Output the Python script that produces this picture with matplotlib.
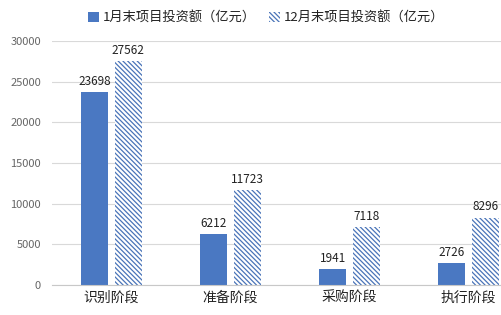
import matplotlib
matplotlib.use("Agg")
import matplotlib.pyplot as plt
from matplotlib.patches import Patch
import numpy as np

plt.rcParams['font.family'] = ['Noto Sans CJK SC', 'DejaVu Sans']
plt.rcParams['hatch.color'] = '#4a74b8'
plt.rcParams['hatch.linewidth'] = 0.9

categories = ['识别阶段', '准备阶段', '采购阶段', '执行阶段']
jan_values = [23698, 6212, 1941, 2726]
dec_values = [27562, 11723, 7118, 8296]
series_names = ['1月末项目投资额（亿元）', '12月末项目投资额（亿元）']
yticks = [0, 5000, 10000, 15000, 20000, 25000, 30000]

blue = '#4a78c2'
hatch = '\\' * 7

fig = plt.figure(figsize=(5.02, 3.15), dpi=100)
ax = fig.add_axes([52/502, 30/315, 476/502, 244/315])

x = np.arange(len(categories))
w = 0.225
off = 0.14
b1 = ax.bar(x - off, jan_values, w, color=blue, linewidth=0)
b2 = ax.bar(x + off, dec_values, w, color='white', edgecolor='#4a74b8', hatch=hatch, linewidth=0)

for rect, v in zip(list(b1) + list(b2), jan_values + dec_values):
    ax.text(rect.get_x() + rect.get_width()/2, v + 500, str(v), ha='center', va='bottom',
            fontsize=8.5, color='#222222')

ax.set_xlim(-0.5, 3.5)
ax.set_ylim(0, 30000)
ax.set_yticks(yticks)
ax.set_yticklabels([str(t) for t in yticks])
ax.set_xticks(x)
ax.set_xticklabels(categories)
ax.tick_params(axis='y', length=0, pad=8, labelsize=8, labelcolor='#666666')
ax.tick_params(axis='x', length=0, pad=4, labelsize=10, labelcolor='#222222')
ax.grid(axis='y', color='#d9d9d9', linewidth=0.8)
ax.set_axisbelow(True)
for s in ['top', 'right', 'left']:
    ax.spines[s].set_visible(False)
ax.spines['bottom'].set_color('#c8c8c8')

handles = [Patch(facecolor=blue, linewidth=0),
           Patch(facecolor='white', edgecolor='#4a74b8', hatch=hatch, linewidth=0)]
fig.legend(handles, series_names, loc='upper center', bbox_to_anchor=(0.53, 1.0), ncol=2,
           frameon=False, fontsize=9.5, handlelength=0.8, handleheight=0.8,
           handletextpad=0.3, columnspacing=1.0, labelcolor='#222222')

fig.savefig('out.png', dpi=100)
